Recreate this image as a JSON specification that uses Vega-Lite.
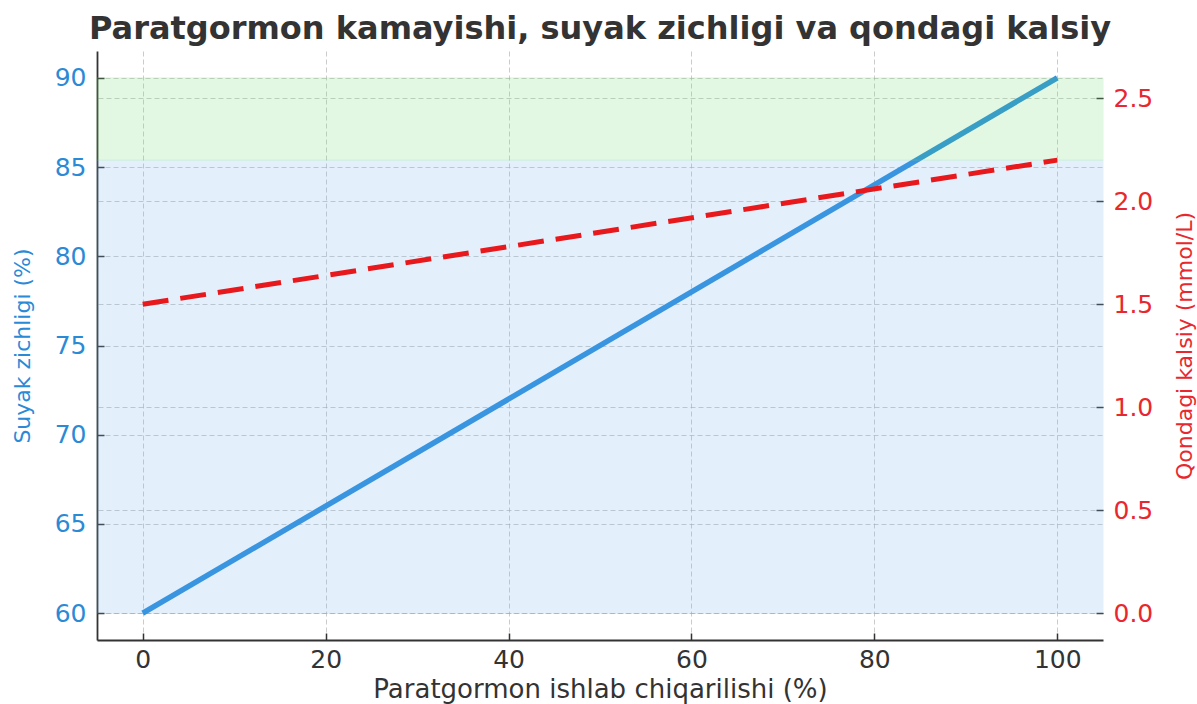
{
  "$schema": "https://vega.github.io/schema/vega-lite/v6.json",
  "width": 1006,
  "height": 589,
  "autosize": {"type": "none"},
  "padding": {"left": 97, "top": 51, "right": 94, "bottom": 64},
  "background": "white",
  "title": {
    "text": "Paratgormon kamayishi, suyak zichligi va qondagi kalsiy",
    "font": "DejaVu Sans",
    "fontSize": 32,
    "fontWeight": "bold",
    "color": "#333333",
    "anchor": "middle",
    "frame": "group",
    "offset": 5
  },
  "config": {
    "view": {"stroke": null},
    "font": "DejaVu Sans",
    "axis": {
      "gridColor": "#a8a8a8",
      "gridOpacity": 0.6,
      "gridDash": [5, 3],
      "gridWidth": 1,
      "tickColor": "#333333",
      "tickWidth": 1.5,
      "domainColor": "#333333",
      "domainWidth": 1.8
    }
  },
  "datasets": {
    "density": [
      {"ptg": 0, "density": 60},
      {"ptg": 100, "density": 90}
    ],
    "calcium": [
      {"ptg": 0, "calcium": 1.5},
      {"ptg": 100, "calcium": 2.2}
    ],
    "zones": [
      {"zone": "Gipokalsiyemiya", "lo": 0, "hi": 2.2},
      {"zone": "Norma", "lo": 2.2, "hi": 2.6}
    ]
  },
  "layer": [
    {
      "data": {"name": "density"},
      "mark": {"type": "line", "color": "#2b8ddb", "strokeWidth": 5.5},
      "encoding": {
        "x": {
          "field": "ptg",
          "type": "quantitative",
          "scale": {"domain": [-5, 105], "nice": false, "zero": false},
          "axis": {
            "values": [0, 20, 40, 60, 80, 100],
            "title": "Paratgormon ishlab chiqarilishi (%)",
            "titleFontSize": 26,
            "titleFontWeight": "normal",
            "titleColor": "#333333",
            "titlePadding": 4,
            "labelFontSize": 25,
            "labelColor": "#333333",
            "labelPadding": 14,
            "tickSize": -7,
            "grid": true
          }
        },
        "y": {
          "field": "density",
          "type": "quantitative",
          "scale": {"domain": [58.5, 91.5], "nice": false, "zero": false},
          "axis": {
            "orient": "left",
            "values": [60, 65, 70, 75, 80, 85, 90],
            "title": "Suyak zichligi (%)",
            "titleFontSize": 22,
            "titleFontWeight": "normal",
            "titleColor": "#2b8ad6",
            "titlePadding": 20,
            "labelFontSize": 25,
            "labelColor": "#2b8ad6",
            "labelPadding": 18,
            "tickSize": -7,
            "grid": true
          }
        }
      }
    },
    {
      "layer": [
        {
          "data": {"name": "zones"},
          "mark": {"type": "rect", "opacity": 0.2, "strokeWidth": 1},
          "encoding": {
            "y": {
              "field": "lo",
              "type": "quantitative",
              "scale": {"domain": [-0.13, 2.73], "nice": false, "zero": false},
              "axis": {
                "orient": "right",
                "values": [0, 0.5, 1, 1.5, 2, 2.5],
                "format": ".1f",
                "title": "Qondagi kalsiy (mmol/L)",
                "titleAngle": 270,
                "titleFontSize": 22,
                "titleFontWeight": "normal",
                "titleColor": "#e8282e",
                "titlePadding": 44,
                "labelFontSize": 25,
                "labelColor": "#e8282e",
                "labelPadding": 17,
                "tickSize": -7,
                "domain": false,
                "grid": true
              }
            },
            "y2": {"field": "hi"},
            "color": {
              "field": "zone",
              "type": "nominal",
              "scale": {"domain": ["Gipokalsiyemiya", "Norma"], "range": ["#78b9f5", "#73e173"]},
              "legend": null
            },
            "stroke": {
              "field": "zone",
              "type": "nominal",
              "scale": {"domain": ["Gipokalsiyemiya", "Norma"], "range": ["#78b9f5", "#73e173"]},
              "legend": null
            }
          }
        },
        {
          "data": {"name": "calcium"},
          "mark": {"type": "line", "color": "#e8191c", "strokeWidth": 5, "strokeDash": [26, 12]},
          "encoding": {
            "x": {"field": "ptg", "type": "quantitative"},
            "y": {
              "field": "calcium",
              "type": "quantitative",
              "scale": {"domain": [-0.13, 2.73], "nice": false, "zero": false},
              "axis": {
                "orient": "right",
                "values": [0, 0.5, 1, 1.5, 2, 2.5],
                "format": ".1f",
                "title": "Qondagi kalsiy (mmol/L)",
                "titleAngle": 270,
                "titleFontSize": 22,
                "titleFontWeight": "normal",
                "titleColor": "#e8282e",
                "titlePadding": 44,
                "labelFontSize": 25,
                "labelColor": "#e8282e",
                "labelPadding": 17,
                "tickSize": -7,
                "domain": false,
                "grid": true
              }
            }
          }
        }
      ]
    }
  ],
  "resolve": {"scale": {"y": "independent"}, "axis": {"y": "independent"}}
}
